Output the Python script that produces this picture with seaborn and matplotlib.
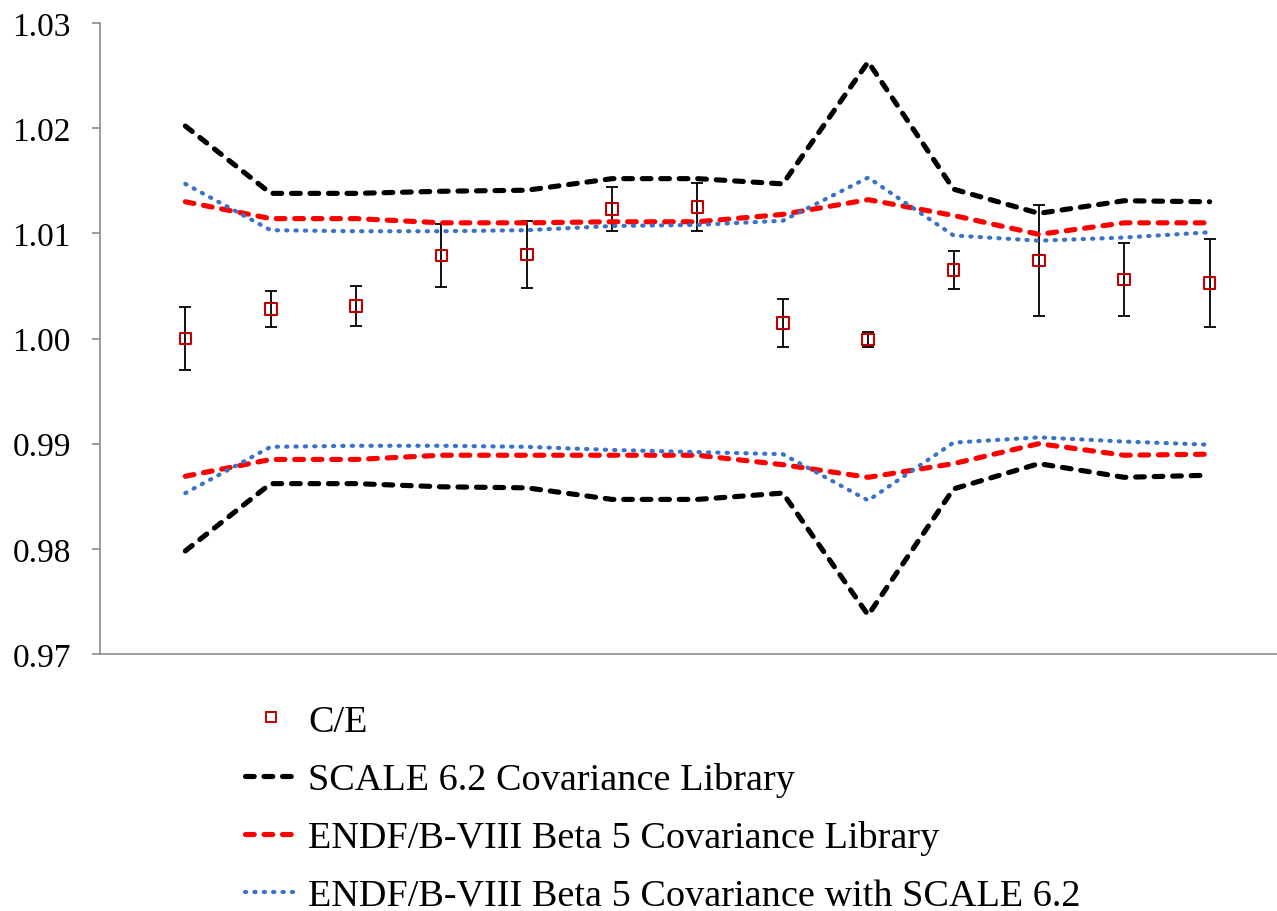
import numpy as np
import pandas as pd
import matplotlib
matplotlib.use("Agg")
import matplotlib.pyplot as plt
import seaborn as sns
from matplotlib.lines import Line2D

# ---- data ----
cases = list(range(13))
ce_values = [1.0000, 1.0028, 1.0031, 1.0079, 1.0080, 1.0123, 1.0125,
             1.0015, 0.9999, 1.0065, 1.0074, 1.0056, 1.0053]
ce_errors = [0.0030, 0.0017, 0.0019, 0.0030, 0.0032, 0.0021, 0.0023,
             0.0023, 0.0007, 0.0018, 0.0053, 0.0035, 0.0042]

scale62_upper = [1.0202, 1.0138, 1.0138, 1.0140, 1.0141, 1.0152, 1.0152,
                 1.0147, 1.0263, 1.0142, 1.0119, 1.0131, 1.0130]
scale62_lower = [0.9798, 0.9862, 0.9862, 0.9859, 0.9858, 0.9847, 0.9847,
                 0.9853, 0.9737, 0.9857, 0.9881, 0.9868, 0.9870]
endf_upper = [1.0130, 1.0114, 1.0114, 1.0110, 1.0110, 1.0111, 1.0111,
              1.0118, 1.0132, 1.0117, 1.0099, 1.0110, 1.0110]
endf_lower = [0.9869, 0.9885, 0.9885, 0.9889, 0.9889, 0.9889, 0.9889,
              0.9880, 0.9868, 0.9881, 0.9900, 0.9889, 0.9890]
endf_s62_upper = [1.0147, 1.0103, 1.0102, 1.0102, 1.0103, 1.0107, 1.0108,
                  1.0112, 1.0153, 1.0098, 1.0093, 1.0096, 1.0101]
endf_s62_lower = [0.9853, 0.9897, 0.9898, 0.9898, 0.9897, 0.9894, 0.9892,
                  0.9890, 0.9846, 0.9901, 0.9906, 0.9902, 0.9899]

y_ticks = [0.97, 0.98, 0.99, 1.00, 1.01, 1.02, 1.03]
y_tick_labels = ["0.97", "0.98", "0.99", "1.00", "1.01", "1.02", "1.03"]

labels = ["C/E",
          "SCALE 6.2 Covariance Library",
          "ENDF/B-VIII Beta 5 Covariance Library",
          "ENDF/B-VIII Beta 5 Covariance with SCALE 6.2"]

# ---- style ----
sns.set_style("white")
plt.rcParams["font.family"] = ["Liberation Serif", "DejaVu Serif"]
plt.rcParams["text.color"] = "black"
plt.rcParams["ytick.color"] = "black"

W, H = 1277, 912
fig = plt.figure(figsize=(W / 100, H / 100), dpi=100)
ax = fig.add_axes([100 / W, 1 - 655 / H, (W - 100) / W, (655 - 24) / H])

black_c = "#000000"
red_c = "#FF0000"
blue_c = "#3A72C8"
ce_c = "#C00000"

DASH_LW, DASH_PAT = 3.7, (1.7, 1.9)
DOT_LW, DOT_PAT = 3.0, (0.3, 1.95)

# error bars (beneath lines)
ax.errorbar(cases, ce_values, yerr=ce_errors, fmt="none", ecolor="black",
            elinewidth=1.3, capsize=4.3, capthick=1.3, zorder=1)

line_specs = [
    (scale62_upper, black_c, "dash"),
    (scale62_lower, black_c, "dash"),
    (endf_upper, red_c, "dash"),
    (endf_lower, red_c, "dash"),
    (endf_s62_upper, blue_c, "dot"),
    (endf_s62_lower, blue_c, "dot"),
]
for vals, col, kind in line_specs:
    df = pd.DataFrame({"case": cases, "val": vals})
    lw = DASH_LW if kind == "dash" else DOT_LW
    sns.lineplot(data=df, x="case", y="val", ax=ax, color=col, lw=lw,
                 zorder=2 if kind == "dash" else 3)
    ln = ax.lines[-1]
    ln.set_dashes(DASH_PAT if kind == "dash" else DOT_PAT)
    ln.set_dash_capstyle("round")
    ln.set_solid_joinstyle("round")

ce_df = pd.DataFrame({"case": cases, "ce": ce_values})
sns.scatterplot(data=ce_df, x="case", y="ce", ax=ax, marker="s", s=70,
                facecolor="none", edgecolor=ce_c, linewidth=1.5, zorder=4)

# ---- axes ----
ax.set_xlim(-1.0, 12.79)
ax.set_ylim(0.97, 1.03)
ax.set_yticks(y_ticks)
ax.set_yticklabels(y_tick_labels, fontsize=24, color="black")
ax.set_xticks([])
ax.set_xlabel("")
ax.set_ylabel("")
for s in ["top", "right"]:
    ax.spines[s].set_visible(False)
for s in ["left", "bottom"]:
    ax.spines[s].set_color("#8C8C8C")
    ax.spines[s].set_linewidth(1.2)
ax.tick_params(axis="y", direction="out", length=6, width=1.2,
               color="#8C8C8C", pad=15, left=True, labelcolor="black")
ax.grid(False)

# ---- legend ----
h_ce = Line2D([], [], ls="none", marker="s", markersize=7.5, mfc="none",
              mec=ce_c, mew=1.4)
h_s62 = Line2D([], [], color=black_c, lw=DASH_LW, dashes=DASH_PAT,
               dash_capstyle="round")
h_endf = Line2D([], [], color=red_c, lw=DASH_LW, dashes=DASH_PAT,
                dash_capstyle="round")
h_blue = Line2D([], [], color=blue_c, lw=DOT_LW, dashes=DOT_PAT,
                dash_capstyle="round")
leg = fig.legend([h_ce, h_s62, h_endf, h_blue], labels,
                 loc="upper left", bbox_to_anchor=(245 / W, 1 - 705 / H),
                 frameon=False, fontsize=27.5, handlelength=1.36,
                 handletextpad=0.29, labelspacing=0.61, borderpad=0,
                 borderaxespad=0, labelcolor="black")

fig.savefig("out.png", dpi=100, facecolor="white")
